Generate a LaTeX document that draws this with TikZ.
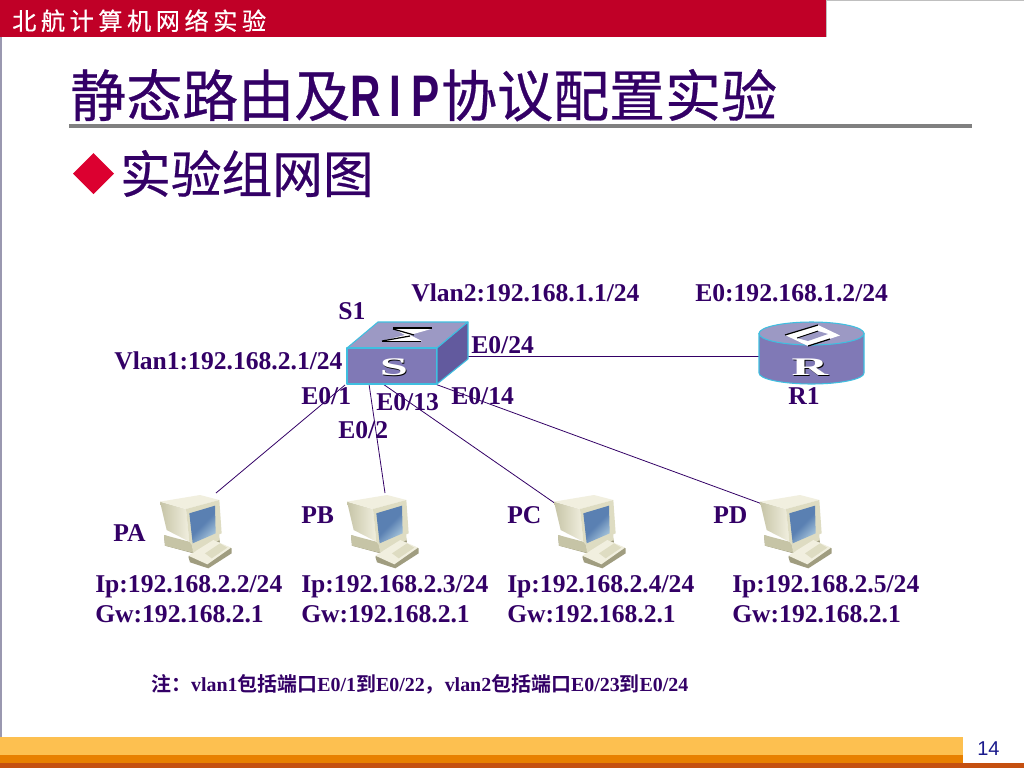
\documentclass[tikz,border=0pt]{standalone}
\usepackage{graphicx}
\usepackage{fontspec}
\setmainfont{Liberation Serif}
\newfontfamily\cjk{Noto Sans CJK SC}[FakeBold=0.5]
\newfontfamily\cjkb{Noto Sans CJK SC}[BoldFont={Noto Sans CJK SC Bold}]
\newfontfamily\cjkspaced{Noto Sans CJK SC}[LetterSpace=19,FakeBold=0.6]
\newfontfamily\ripfont{Liberation Sans}
\newfontfamily\numfont{Liberation Sans}
\newcommand{\ripch}[1]{\makebox[22.7pt][c]{\scalebox{0.72}[1]{#1}}}
\definecolor{ink}{HTML}{330066}
\definecolor{redbar}{HTML}{C00027}
\definecolor{cyanedge}{HTML}{3FBFE0}
\definecolor{devtop}{HTML}{9C99C4}
\definecolor{devfront}{HTML}{8079B6}
\definecolor{devside}{HTML}{625A9E}
\definecolor{beige}{HTML}{DEDCC2}
\definecolor{beigeL}{HTML}{F1EFDF}
\definecolor{beigeM}{HTML}{C6C4A6}
\definecolor{beigeD}{HTML}{A09D80}
\definecolor{scrA}{HTML}{5A80B2}
\definecolor{scrB}{HTML}{A8C6DC}
\definecolor{edgegray}{HTML}{9A98B0}
\definecolor{footA}{HTML}{FDC050}
\definecolor{footB}{HTML}{E88000}
\definecolor{footC}{HTML}{C55010}
\definecolor{dia}{HTML}{DC0030}
\definecolor{pagenum}{HTML}{1A1A8C}
\tikzset{
  lab/.style={anchor=base west,inner sep=0pt,text=ink,font=\fontsize{19.2}{22}\selectfont\bfseries},
  wire/.style={draw=ink,line width=0.6pt},
  logotxt/.style={text=white,inner sep=0pt,font=\fontsize{19}{19}\selectfont\bfseries},
  pcicon/.pic={
    \begin{scope}[scale=0.3333]
      % base
      \fill[beigeD] (42,150) -- (125,180) -- (205,150) -- (210,172) -- (130,205) -- (45,182) -- cycle;
      \fill[beigeM] (42,150) -- (125,172) -- (128,203) -- (45,182) -- cycle;
      \fill[beige] (125,172) -- (207,140) -- (209,165) -- (128,203) -- cycle;
      % keyboard
      \fill[beigeD] (115,215) -- (190,168) -- (245,190) -- (245,205) -- (175,250) -- (120,232) -- cycle;
      \fill[beigeL] (115,212) -- (190,165) -- (243,188) -- (172,238) -- cycle;
      \fill[beige] (165,205) -- (210,175) -- (232,188) -- (185,220) -- cycle;
      % monitor
      \shade[left color=beigeM,right color=beigeL] (30,50) -- (108,72) -- (118,170) -- (50,135) -- cycle;
      \fill[beigeL] (30,50) -- (150,30) -- (208,45) -- (108,72) -- cycle;
      \fill[beige] (108,72) -- (208,45) -- (215,145) -- (128,183) -- (118,170) -- cycle;
      \shade[left color=scrA,right color=scrB,middle color=scrA,shading angle=45]
        (118,85) -- (195,62) -- (197,145) -- (128,175) -- cycle;
    \end{scope}
  }
}
\begin{document}
\begin{tikzpicture}[x=0.75pt,y=-0.75pt]
\useasboundingbox (0,0) rectangle (1024,768);
\fill[white] (0,0) rectangle (1024,768);
% slide frame
\fill[edgegray] (0,37) rectangle (1.5,740);
\fill[redbar] (0,0) rectangle (826,37);
\fill[gray!50] (826,0) rectangle (827,37);
\draw[gray!50,line width=0.5pt] (826,0.3) -- (1024,0.3);
\node[anchor=base west,inner sep=0pt,text=white,font=\cjkspaced\fontsize{18.1}{18}\selectfont] (hdr) at (12,30) {北航计算机网络实验};
% footer
\fill[footA] (0,737) rectangle (963,755);
\fill[footB] (0,755) rectangle (963,763);
\fill[footC] (0,763) rectangle (1024,768);
\node[anchor=base west,inner sep=0pt,text=pagenum,font=\numfont\fontsize{15}{15}\selectfont] (pg) at (977,755) {14};
% title
\node[anchor=base west,inner sep=0pt,text=ink,font=\cjk\fontsize{42}{42}\selectfont] (title) at (70,116.5) {静态路由及{\ripfont\bfseries\fontsize{44}{44}\selectfont\ripch{R}\ripch{I}\ripch{P}}协议配置实验};
\fill[gray] (69,124) rectangle (972,128);
\fill[dia] (73,173.5) -- (93.5,153) -- (114,173.5) -- (93.5,194) -- cycle;
\node[anchor=base west,inner sep=0pt,text=ink,font=\cjk\fontsize{38}{38}\selectfont] (sub) at (120,193) {实验组网图};
% anchors of the network
\coordinate (swa) at (345,385);
\coordinate (swb) at (369,384);
\coordinate (swc) at (383,384);
\coordinate (swd) at (435,384);
\coordinate (swe) at (468,356);
\coordinate (rl) at (759,356);
\coordinate (pa) at (216,493);
\coordinate (pb) at (385,493);
\coordinate (pc) at (556,504);
\coordinate (pd) at (765,505);
\draw[wire] (swa) -- (pa);
\draw[wire] (swb) -- (pb);
\draw[wire] (swc) -- (pc);
\draw[wire] (swd) -- (pd);
\draw[wire] (swe) -- (rl);
% switch
\begin{scope}[draw=cyanedge,line width=0.8pt,line join=round]
  \filldraw[fill=devtop] (378,322) -- (468,322) -- (437,348) -- (347,348) -- cycle;
  \filldraw[fill=devfront] (347,348) -- (437,348) -- (437,384) -- (347,384) -- cycle;
  \filldraw[fill=devside] (437,348) -- (468,322) -- (468,359) -- (437,384) -- cycle;
\end{scope}
\fill[white] (394,329) -- (431,329) -- (410,335) -- (422,341) -- (382,341) -- (405,335) -- cycle;
\draw[black,line width=1pt] (393,328) -- (432,328);
\draw[black,line width=1pt] (382,341.5) -- (421,341.5);
\draw[black,line width=0.9pt] (393,329) -- (414,335);
\draw[black,line width=0.9pt] (382,341) -- (410,336);
\node[logotxt,text=black,xscale=2] (swshadow) at (394.8,367.8) {S};
\node[logotxt,xscale=2] (swlogo) at (394,367) {S};
% router
\begin{scope}[draw=cyanedge,line width=0.8pt]
  \filldraw[fill=devfront] (759,333.5) -- (759,373) arc[start angle=180,end angle=360,x radius=52.5,y radius=-11] -- (864,333.5) -- cycle;
  \filldraw[fill=devtop] (811.5,333.5) ellipse[x radius=52.5,y radius=11.5];
\end{scope}
\fill[white] (785,335) -- (818,325) -- (840,335.5) -- (808,346) -- cycle;
\fill[devtop] (797,338) -- (818,331) -- (828,334) -- (808,341) -- cycle;
\draw[black,line width=0.9pt] (785,335) -- (818,325);
\draw[black,line width=0.9pt] (808,346) -- (830,339);
\draw[black,line width=0.7pt] (797,338) -- (818,331);
\node[logotxt,text=black,xscale=2] (rshadow) at (810.8,367.8) {R};
\node[logotxt,xscale=2] (rlogo) at (810,367) {R};
% computers
\pic at (150,485) {pcicon};
\pic at (337,485) {pcicon};
\pic at (544,485) {pcicon};
\pic at (750,485) {pcicon};
% labels
\node[lab] (ls1) at (338,319) {S1};
\node[lab] (lv2) at (411,301) {Vlan2:192.168.1.1/24};
\node[lab] (lre) at (695,301) {E0:192.168.1.2/24};
\node[lab] (l24) at (471,353) {E0/24};
\node[lab] (lv1) at (114,369) {Vlan1:192.168.2.1/24};
\node[lab] (l1) at (301,404) {E0/1};
\node[lab] (l13) at (376,410) {E0/13};
\node[lab] (l14) at (451,404) {E0/14};
\node[lab] (l2) at (338,438) {E0/2};
\node[lab] (lr1) at (788,404) {R1};
\node[lab] (lpa) at (113,541) {PA};
\node[lab] (lpb) at (301,523) {PB};
\node[lab] (lpc) at (507,523) {PC};
\node[lab] (lpd) at (713,523) {PD};
\node[lab] (ipa) at (95,592) {Ip:192.168.2.2/24};
\node[lab] (gwa) at (95,622) {Gw:192.168.2.1};
\node[lab] (ipb) at (301,592) {Ip:192.168.2.3/24};
\node[lab] (gwb) at (301,622) {Gw:192.168.2.1};
\node[lab] (ipc) at (507,592) {Ip:192.168.2.4/24};
\node[lab] (gwc) at (507,622) {Gw:192.168.2.1};
\node[lab] (ipd) at (732,592) {Ip:192.168.2.5/24};
\node[lab] (gwd) at (732,622) {Gw:192.168.2.1};
\node[anchor=base west,inner sep=0pt,text=ink,font=\fontsize{14.95}{16}\selectfont\bfseries] (note) at (151,691)
 {{\cjkb 注：}vlan1{\cjkb 包括端口}E0/1{\cjkb 到}E0/22{\cjkb ，}vlan2{\cjkb 包括端口}E0/23{\cjkb 到}E0/24};
\end{tikzpicture}
\end{document}
